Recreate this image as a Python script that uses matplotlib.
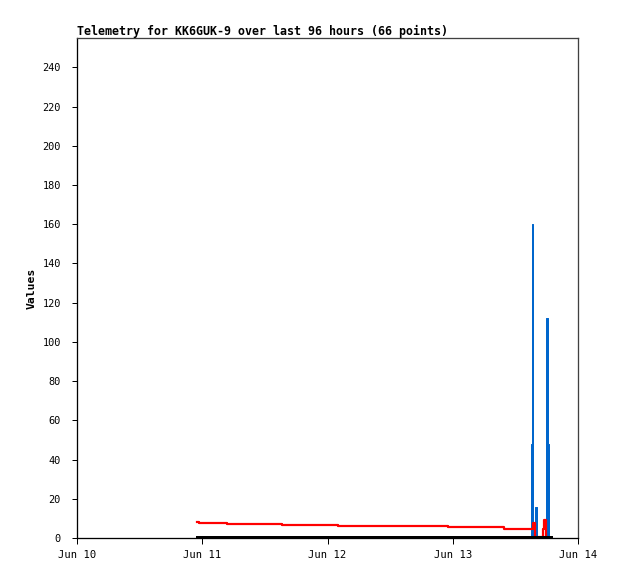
import pandas as pd
import matplotlib
matplotlib.use('Agg')
import matplotlib.pyplot as plt

# 基準時刻 (Jun 10 00:00) からの経過時間 [h]
start = pd.Timestamp('2024-06-10 00:00')

# 赤 (階段状に少しずつ下がる系列)
red_hours = [23.0, 23.3, 28.7, 39.3, 50.0, 60.5, 71.1, 81.8, 87.45, 87.75, 89.3, 89.55, 89.8]
red_vals = [8.2, 7.8, 7.3, 6.8, 6.3, 5.9, 5.5, 4.8, 7.8, 0.3, 4.7, 9.2, 0.3]

# 青 (最後の数時間のスパイク)
blue_hours = [86.95, 87.0, 87.2, 87.45, 87.7, 88.05, 89.8, 90.2, 90.5]
blue_vals = [0, 48, 160, 0, 16, 0, 112, 48, 0]

# 黒 (ほぼ0の系列)
black_hours = [23.0, 91.0]
black_vals = [0.4, 0.4]

yticks = list(range(0, 241, 20))
xtick_labels = ['Jun 10', 'Jun 11', 'Jun 12', 'Jun 13', 'Jun 14']


def to_time(hours):
    return [start + pd.Timedelta(hours=h) for h in hours]


plt.rcParams['font.family'] = ['DejaVu Sans Mono']

fig = plt.figure(figsize=(6.18, 5.79), dpi=100)
ax = fig.add_axes([77 / 618, 1 - 538 / 579, 501 / 618, 500 / 579])

px = 72 / 100  # 1ピクセルのポイント数

ax.fill_between(to_time(blue_hours), blue_vals, 0, step='post', facecolor='#0066cc',
                edgecolor='#0066cc', linewidth=1.0 * px)
ax.plot(to_time(red_hours), red_vals, drawstyle='steps-post', color='#ff0000', linewidth=2.2 * px)
ax.plot(to_time(black_hours), black_vals, color='black', linewidth=2.0 * px)

ax.set_xlim(start, start + pd.Timedelta(hours=96))
ax.set_ylim(0, 255)
ax.set_yticks(yticks)
ax.set_xticks(to_time([0, 24, 48, 72, 96]))
ax.set_xticklabels(xtick_labels)

for side in ['top', 'right']:
    ax.spines[side].set_color('#404040')
    ax.spines[side].set_linewidth(1.3 * px)
for side in ['left', 'bottom']:
    ax.spines[side].set_color('black')
    ax.spines[side].set_linewidth(1.3 * px)

ax.tick_params(axis='y', length=5 * px, width=1 * px, pad=8, labelsize=7.4)
ax.tick_params(axis='x', length=6 * px, width=1 * px, pad=4, labelsize=7.6)

fig.text(77 / 618, 1 - 31 / 579, 'Telemetry for KK6GUK-9 over last 96 hours (66 points)',
         ha='left', va='center', fontsize=8.35, fontweight='bold')
fig.text(32 / 618, 1 - 288 / 579, 'Values', rotation=90, ha='center', va='center',
         fontsize=8.2, fontweight='bold')

fig.savefig('out.png', dpi=100)
